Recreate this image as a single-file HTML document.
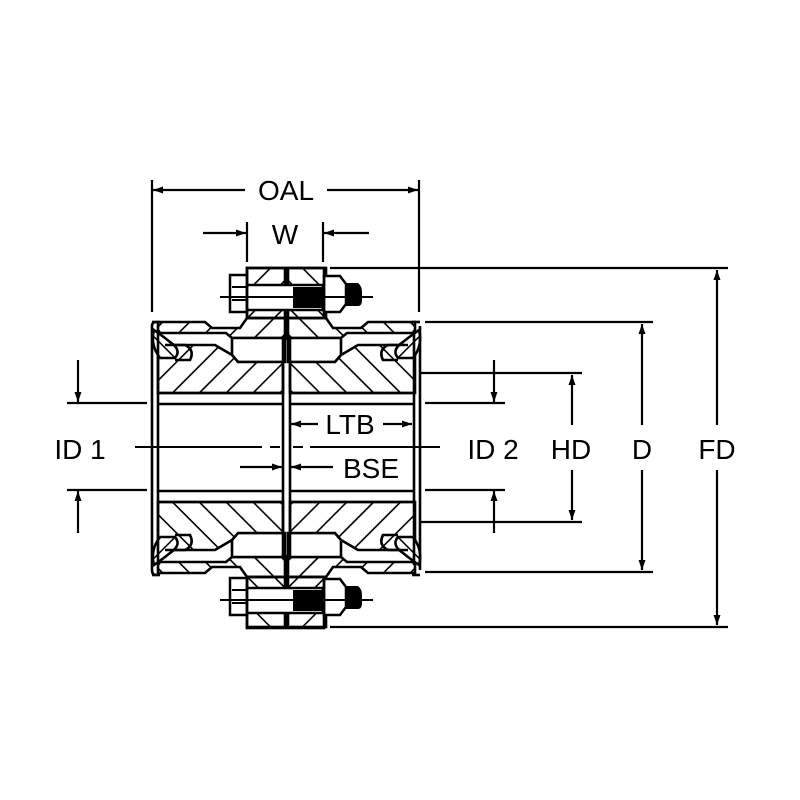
<!DOCTYPE html>
<html><head><meta charset="utf-8"><style>
html,body{margin:0;padding:0;background:#fff}
svg{display:block}
text{font-family:"Liberation Sans",Arial,sans-serif;fill:#000}
</style></head><body>
<svg width="800" height="800" viewBox="0 0 800 800" xmlns="http://www.w3.org/2000/svg">
<defs>
<pattern id="hL" width="19" height="19" patternUnits="userSpaceOnUse" patternTransform="rotate(45)">
<rect width="19" height="19" fill="#fff"/><line x1="0" y1="0" x2="0" y2="19" stroke="#000" stroke-width="3.2"/></pattern>
<pattern id="hR" width="10" height="10" patternUnits="userSpaceOnUse" patternTransform="rotate(-45)">
<rect width="10" height="10" fill="#fff"/><line x1="0" y1="0" x2="0" y2="10" stroke="#000" stroke-width="3"/></pattern>
<marker id="ar" viewBox="0 0 10 10" refX="10" refY="5" markerWidth="15" markerHeight="10" markerUnits="userSpaceOnUse" orient="auto-start-reverse"><path d="M0,1.5 L10,5 L0,8.5 Z" fill="#000"/></marker>
<g id="half">
 <path d="M158,322 L205,322 L212,328 L240,328 L247,318 L285,318 L285,338 L232,338 L226,333 L160,333 L158,330 Z" fill="url(#hL)" stroke="#000" stroke-width="2.6"/>
 <rect x="247" y="268" width="38" height="50" fill="url(#hL)" stroke="#000" stroke-width="2.6"/>
 <path d="M232,338 L285,338 L285,362 L238,362 L232,355 Z" fill="#fff" stroke="#000" stroke-width="2.6"/>
 <path d="M158,345 L170,345 L215,345 L232,355 L238,362 L283,362 L283,393 L158,393 Z" fill="url(#hL)" stroke="#000" stroke-width="2.6"/>
 <path d="M154,330 Q150,345 160,358 L175,358 Q182,350 170,342 L165,338 Z" fill="url(#hR)" stroke="#000" stroke-width="2.6"/>
 <path d="M165,345 L185,345 Q195,350 190,360 L175,360" fill="none" stroke="#000" stroke-width="2.6"/>
 <line x1="158" y1="393" x2="283" y2="393" stroke="#000" stroke-width="2.6"/>
 <line x1="158" y1="404" x2="283" y2="404" stroke="#000" stroke-width="2.6"/>
</g>
</defs>

<use href="#half"/>
<use href="#half" transform="translate(573,0) scale(-1,1)"/>
<use href="#half" transform="translate(0,895) scale(1,-1)"/>
<use href="#half" transform="translate(573,895) scale(-1,-1)"/>

<g stroke="#000" stroke-width="2.6" fill="none">
<path d="M152,326 Q152,322 156,322 M152,326 L152,570 Q152,575 156,575"/>
<path d="M420,326 L420,570"/>
<line x1="158" y1="330" x2="158" y2="565"/>
<line x1="414" y1="330" x2="414" y2="565"/>
<line x1="152" y1="322" x2="160" y2="322"/>
<line x1="412" y1="322" x2="420" y2="322"/>
<line x1="152" y1="575" x2="160" y2="575"/>
<line x1="412" y1="575" x2="420" y2="575"/>
<line x1="283" y1="338" x2="283" y2="557"/>
<line x1="290" y1="338" x2="290" y2="557"/>
<line x1="286.5" y1="268" x2="286.5" y2="340"/>
<line x1="286.5" y1="555" x2="286.5" y2="628"/>
</g>

<g id="bolt">
 <rect x="230" y="275" width="17" height="37" fill="#fff" stroke="#000" stroke-width="2.5"/>
 <line x1="232" y1="287" x2="247" y2="287" stroke="#000" stroke-width="2"/>
 <line x1="232" y1="300" x2="247" y2="300" stroke="#000" stroke-width="2"/>
 <rect x="247" y="285" width="76" height="25" fill="#fff" stroke="#000" stroke-width="2.5"/>
 <rect x="293" y="287" width="30" height="21" fill="#000"/>
 <path d="M324,276 L340,276 L346,284 L346,304 L340,312 L324,312 Z" fill="#fff" stroke="#000" stroke-width="2.5"/>
 <path d="M346,283 L358,283 Q362,286 362,292 L362,300 Q362,306 358,306 L346,306 Z" fill="#000"/>
 <line x1="220" y1="297" x2="373" y2="297" stroke="#000" stroke-width="2"/>
</g>
<use href="#bolt" transform="translate(0,303)"/>
<rect x="247" y="268" width="77" height="50" fill="none" stroke="#000" stroke-width="2.6"/>
<rect x="247" y="577" width="77" height="51" fill="none" stroke="#000" stroke-width="2.6"/>

<g stroke="#000" stroke-width="2">
<line x1="135" y1="447" x2="262" y2="447"/>
<line x1="270" y1="447" x2="280" y2="447"/>
<line x1="293" y1="447" x2="303" y2="447"/>
<line x1="310" y1="447" x2="440" y2="447"/>
</g>

<g stroke="#000" stroke-width="2.2" fill="none">
<line x1="152" y1="180" x2="152" y2="312"/>
<line x1="419" y1="180" x2="419" y2="312"/>
<line x1="245" y1="190" x2="153" y2="190" marker-end="url(#ar)"/>
<line x1="327" y1="190" x2="418" y2="190" marker-end="url(#ar)"/>
<line x1="247" y1="222" x2="247" y2="262"/>
<line x1="323" y1="222" x2="323" y2="262"/>
<line x1="203" y1="233" x2="246" y2="233" marker-end="url(#ar)"/>
<line x1="369" y1="233" x2="324" y2="233" marker-end="url(#ar)"/>
<line x1="330" y1="268" x2="728" y2="268"/>
<line x1="330" y1="627" x2="728" y2="627"/>
<line x1="717" y1="425" x2="717" y2="270" marker-end="url(#ar)"/>
<line x1="717" y1="470" x2="717" y2="625" marker-end="url(#ar)"/>
<line x1="425" y1="322" x2="653" y2="322"/>
<line x1="425" y1="572" x2="653" y2="572"/>
<line x1="642" y1="425" x2="642" y2="324" marker-end="url(#ar)"/>
<line x1="642" y1="470" x2="642" y2="570" marker-end="url(#ar)"/>
<line x1="420" y1="373" x2="582" y2="373"/>
<line x1="420" y1="522" x2="582" y2="522"/>
<line x1="572" y1="425" x2="572" y2="375" marker-end="url(#ar)"/>
<line x1="572" y1="470" x2="572" y2="520" marker-end="url(#ar)"/>
<line x1="425" y1="403" x2="505" y2="403"/>
<line x1="425" y1="490" x2="505" y2="490"/>
<line x1="494" y1="360" x2="494" y2="402" marker-end="url(#ar)"/>
<line x1="494" y1="533" x2="494" y2="491" marker-end="url(#ar)"/>
<line x1="67" y1="403" x2="147" y2="403"/>
<line x1="67" y1="490" x2="147" y2="490"/>
<line x1="78" y1="360" x2="78" y2="402" marker-end="url(#ar)"/>
<line x1="78" y1="533" x2="78" y2="491" marker-end="url(#ar)"/>
<line x1="318" y1="424" x2="291" y2="424" marker-end="url(#ar)"/>
<line x1="383" y1="424" x2="412" y2="424" marker-end="url(#ar)"/>
<line x1="240" y1="467" x2="282" y2="467" marker-end="url(#ar)"/>
<line x1="333" y1="467" x2="291" y2="467" marker-end="url(#ar)"/>
</g>

<g font-size="28" text-anchor="middle">
<text x="286" y="200">OAL</text>
<text x="285" y="244">W</text>
<text x="350" y="434">LTB</text>
<text x="371" y="478">BSE</text>
<text x="80" y="459">ID 1</text>
<text x="493" y="459">ID 2</text>
<text x="571" y="459">HD</text>
<text x="642" y="459">D</text>
<text x="717" y="459">FD</text>
</g>
</svg>
</body></html>
